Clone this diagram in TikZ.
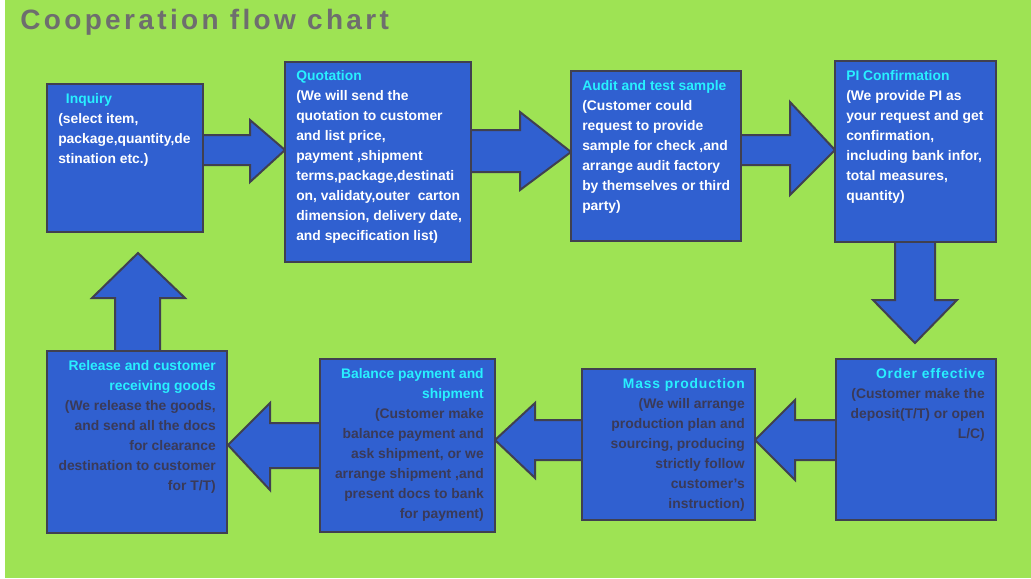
\documentclass[tikz,border=0pt]{standalone}
\usepackage{fontspec}
\setmainfont{Liberation Sans}
\usetikzlibrary{positioning}
\definecolor{bggreen}{RGB}{158,227,84}
\definecolor{boxblue}{RGB}{48,96,208}
\definecolor{boxline}{RGB}{64,64,80}
\definecolor{headcyan}{RGB}{40,240,255}
\definecolor{bodygray}{RGB}{58,58,88}
\definecolor{titlegray}{RGB}{110,110,110}
\tikzset{
  box/.style={draw=boxline,line width=1.5pt,fill=boxblue},
  barrow/.style={draw=boxline,line width=1.5pt,fill=boxblue,line join=miter},
  txtl/.style={anchor=north west,inner sep=0pt,align=left,text=white,font=\bfseries\fontsize{10.4}{15}\selectfont},
  txtr/.style={anchor=north east,inner sep=0pt,align=right,text=bodygray,font=\bfseries\fontsize{10.4}{15}\selectfont},
}
\newcommand{\hd}[1]{\textcolor{headcyan}{#1}}
\newcommand{\spaced}[1]{\addfontfeature{LetterSpace=#1}}
\begin{document}
\begin{tikzpicture}[x=0.75pt,y=0.75pt,yscale=-1,xscale=1]
%background
\fill[white] (0,0) rectangle (1031,578);
\fill[bggreen] (5,0) rectangle (1031,578);
\useasboundingbox (0,0) rectangle (1031,578);
% Title
\node[anchor=west,inner sep=0pt,text=titlegray,font=\bfseries\fontsize{21}{24}\selectfont] (title) at (20,22) {\spaced{12}Cooperation flow chart};

% Block arrows
\draw[barrow] (200,135) -- (250,135) -- (250,120) -- (285,150) -- (250,182) -- (250,165) -- (200,165) -- cycle;
\draw[barrow] (468,130) -- (520,130) -- (520,112) -- (571,152) -- (520,190) -- (520,172) -- (468,172) -- cycle;
\draw[barrow] (738,135) -- (790,135) -- (790,102) -- (835,150) -- (790,195) -- (790,165) -- (738,165) -- cycle;
\draw[barrow] (895,239) -- (895,300) -- (873,300) -- (915,343) -- (957,300) -- (935,300) -- (935,239) -- cycle;
\draw[barrow] (839,420) -- (795,420) -- (795,400) -- (755,440) -- (795,480) -- (795,460) -- (839,460) -- cycle;
\draw[barrow] (585,420) -- (535,420) -- (535,403) -- (495,440) -- (535,478) -- (535,460) -- (585,460) -- cycle;
\draw[barrow] (323,423) -- (270,423) -- (270,403) -- (228,445) -- (270,490) -- (270,468) -- (323,468) -- cycle;
\draw[barrow] (115,354) -- (115,298) -- (92,298) -- (138,253) -- (185,298) -- (160,298) -- (160,354) -- cycle;

% Boxes
\draw[box] (47,84) rectangle (203,232);
\draw[box] (285,62) rectangle (471,262);
\draw[box] (571,71) rectangle (741,241);
\draw[box] (835,61) rectangle (996,242);
\draw[box] (836,359) rectangle (996,520);
\draw[box] (582,369) rectangle (755,520);
\draw[box] (320,359) rectangle (495,532);
\draw[box] (47,351) rectangle (227,533);

% Text Node
\node[txtl] (inquiry) at (58,93) {\ \ \hd{Inquiry}\\(select item,\\package,quantity,de\\stination etc.)};
\node[txtl] (quotation) at (296,70) {\hd{Quotation}\\(We will send the\\quotation to customer\\and list price,\\payment ,shipment\\terms,package,destinati\\on, validaty,outer\ \ carton\\dimension, delivery date,\\and specification list)};
\node[txtl] (audit) at (582,80) {\hd{Audit and test sample}\\(Customer could\\request to provide\\sample for check ,and\\arrange audit factory\\by themselves or third\\party)};
\node[txtl] (pi) at (846,70) {\hd{PI Confirmation}\\(We provide PI as\\your request and get\\confirmation,\\including bank infor,\\total measures,\\quantity)};
\node[txtr] (order) at (985,368) {\hd{{\spaced{6}Order effective}}\\(Customer make the\\deposit(T/T) or open\\L/C)};
\node[txtr] (mass) at (745,378) {\hd{{\spaced{6}Mass production}}\\(We will arrange\\production plan and\\sourcing, producing\\strictly follow\\customer's\\instruction)};
\node[txtr] (balance) at (484,368) {\hd{Balance payment and}\\\hd{shipment}\\(Customer make\\balance payment and\\ask shipment, or we\\arrange shipment ,and\\present docs to bank\\for payment)};
\node[txtr] (release) at (216,360) {\hd{Release and customer}\\\hd{receiving goods}\\(We release the goods,\\and send all the docs\\for clearance\\destination to customer\\for T/T)};
\end{tikzpicture}
\end{document}
